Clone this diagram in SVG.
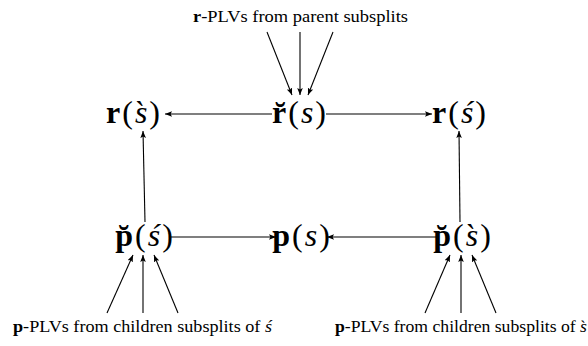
<svg xmlns="http://www.w3.org/2000/svg" width="588" height="346" viewBox="0 0 588 346">
<defs>
<marker id="ah" viewBox="0 0 10 10" refX="10" refY="5" markerWidth="7" markerHeight="7" markerUnits="userSpaceOnUse" orient="auto">
<path d="M0,1 L10,5 L0,9 L2,5 Z" fill="#000"/>
</marker>
</defs>
<style>
.c line{stroke:#000;stroke-width:1.1;marker-end:url(#ah)}
</style>
<rect width="588" height="346" fill="#fff"/>
<g id="label-top"><text x="193" y="22" style="font-family:'Liberation Serif',serif;font-size:17px" textLength="215" lengthAdjust="spacingAndGlyphs"><tspan style="font-weight:bold">r</tspan>-PLVs from parent subsplits</text></g>
<g id="label-bl"><text x="13" y="332" style="font-family:'Liberation Serif',serif;font-size:17px" textLength="259" lengthAdjust="spacingAndGlyphs"><tspan style="font-weight:bold">p</tspan>-PLVs from children subsplits of <tspan style="font-style:italic">ś</tspan></text></g>
<g id="label-br"><text x="335" y="332" style="font-family:'Liberation Serif',serif;font-size:17px" textLength="252" lengthAdjust="spacingAndGlyphs"><tspan style="font-weight:bold">p</tspan>-PLVs from children subsplits of <tspan style="font-style:italic">s̀</tspan></text></g>
<g id="n-r-sgrave"><text x="134" y="123" style="font-family:'Liberation Serif',serif;font-size:32px;letter-spacing:2px" text-anchor="middle"><tspan style="font-weight:bold">r</tspan>(<tspan style="font-style:italic">s̀</tspan>)</text></g>
<g id="n-rbreve-s"><text x="300" y="123" style="font-family:'Liberation Serif',serif;font-size:32px;letter-spacing:2px" text-anchor="middle"><tspan style="font-weight:bold">r̆</tspan>(<tspan style="font-style:italic">s</tspan>)</text></g>
<g id="n-r-sacute"><text x="460" y="123" style="font-family:'Liberation Serif',serif;font-size:32px;letter-spacing:2px" text-anchor="middle"><tspan style="font-weight:bold">r</tspan>(<tspan style="font-style:italic">ś</tspan>)</text></g>
<g id="n-pbreve-sacute"><text x="145" y="246" style="font-family:'Liberation Serif',serif;font-size:32px;letter-spacing:2px" text-anchor="middle"><tspan style="font-weight:bold">p̆</tspan>(<tspan style="font-style:italic">ś</tspan>)</text></g>
<g id="n-p-s"><text x="302" y="246" style="font-family:'Liberation Serif',serif;font-size:32px;letter-spacing:2px" text-anchor="middle"><tspan style="font-weight:bold">p</tspan>(<tspan style="font-style:italic">s</tspan>)</text></g>
<g id="n-pbreve-sgrave"><text x="463" y="246" style="font-family:'Liberation Serif',serif;font-size:32px;letter-spacing:2px" text-anchor="middle"><tspan style="font-weight:bold">p̆</tspan>(<tspan style="font-style:italic">s̀</tspan>)</text></g>
<g id="connectors" class="c">
<line x1="267" y1="32" x2="292" y2="95"/>
<line x1="300" y1="32" x2="300" y2="95"/>
<line x1="333" y1="32" x2="308" y2="95"/>
<line x1="272" y1="114" x2="165" y2="114"/>
<line x1="326" y1="114" x2="432" y2="114"/>
<line x1="145" y1="222" x2="143" y2="131"/>
<line x1="460" y1="222" x2="459" y2="131"/>
<line x1="170" y1="237" x2="276" y2="237"/>
<line x1="436" y1="237" x2="327" y2="237"/>
<line x1="107" y1="313" x2="133" y2="255"/>
<line x1="143" y1="313" x2="143" y2="255"/>
<line x1="178" y1="313" x2="154" y2="255"/>
<line x1="425" y1="313" x2="450" y2="255"/>
<line x1="461" y1="313" x2="461" y2="255"/>
<line x1="496" y1="313" x2="472" y2="255"/>
</g>
</svg>
